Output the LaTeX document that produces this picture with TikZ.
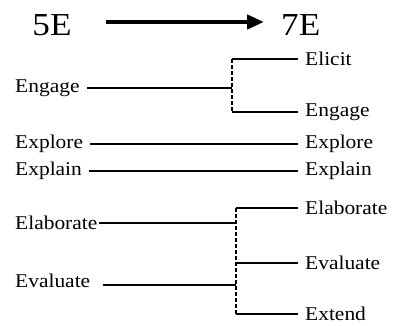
\documentclass[tikz,border=0pt]{standalone}
\usepackage{fontspec}
\setmainfont[FakeStretch=1.1]{Liberation Serif}
\usetikzlibrary{arrows.meta}
\begin{document}
\begin{tikzpicture}[x=1pt,y=1pt,
  lbl/.style={font=\fontsize{19.5}{20}\selectfont, inner xsep=7pt, inner ysep=1pt},
  lft/.style={lbl, anchor=west},
  rgt/.style={lbl, anchor=west},
  big/.style={font=\fontsize{32}{34}\selectfont, inner sep=0pt},
  conn/.style={line width=1.4pt},
  dsh/.style={line width=1.4pt, dash pattern=on 3.5pt off 2.5pt}]
\useasboundingbox (0,0) rectangle (393,-325);
% header
\node[big] (n5) at (52,-25) {5E};
\node[big, anchor=west] (n7) at (281,-25) {7E};
\draw[line width=4.2pt, -{Triangle[length=17pt,width=14pt]}, shorten <=34pt, shorten >=17pt] (n5.east |- 0,-22) -- (n7.west |- 0,-22);
% junction x positions
\coordinate (ja) at (232,0);
\coordinate (jb) at (236,0);
% left nodes
\node[lft] (engL) at (8,-88) {Engage};
\node[lft] (expL) at (8,-144) {Explore};
\node[lft] (xplL) at (8,-171) {Explain};
\node[lft] (elaL) at (8,-223) {Elaborate};
\node[lft] (evaL) at (8,-281) {Evaluate};
% right nodes
\node[rgt] (eli) at (298,-59) {Elicit};
\node[rgt] (engR) at (298,-112) {Engage};
\node[rgt] (expR) at (298,-144) {Explore};
\node[rgt] (xplR) at (298,-171) {Explain};
\node[rgt] (elaR) at (298,-208) {Elaborate};
\node[rgt] (evaR) at (298,-263) {Evaluate};
\node[rgt] (ext) at (298,-314) {Extend};
% top group
\draw[conn] (engL.east) -- (engL.east -| ja);
\draw[conn] (eli.west -| ja) -- (eli.west);
\draw[conn] (engR.west -| ja) -- (engR.west);
\draw[dsh] (eli.west -| ja) -- (engR.west -| ja);
% straight lines
\draw[conn] (expL.east) -- (expR.west);
\draw[conn] (xplL.east) -- (xplR.west);
% bottom group
\draw[conn] ([xshift=-6pt]elaL.east) -- (elaL.east -| jb);
\draw[conn] ([xshift=6pt]evaL.east |- 0,-285) -- (jb |- 0,-285);
\draw[conn] (elaR.west -| jb) -- (elaR.west);
\draw[conn] (evaR.west -| jb) -- (evaR.west);
\draw[conn] (ext.west -| jb) -- (ext.west);
\draw[dsh] (elaR.west -| jb) -- (ext.west -| jb);
\end{tikzpicture}
\end{document}
